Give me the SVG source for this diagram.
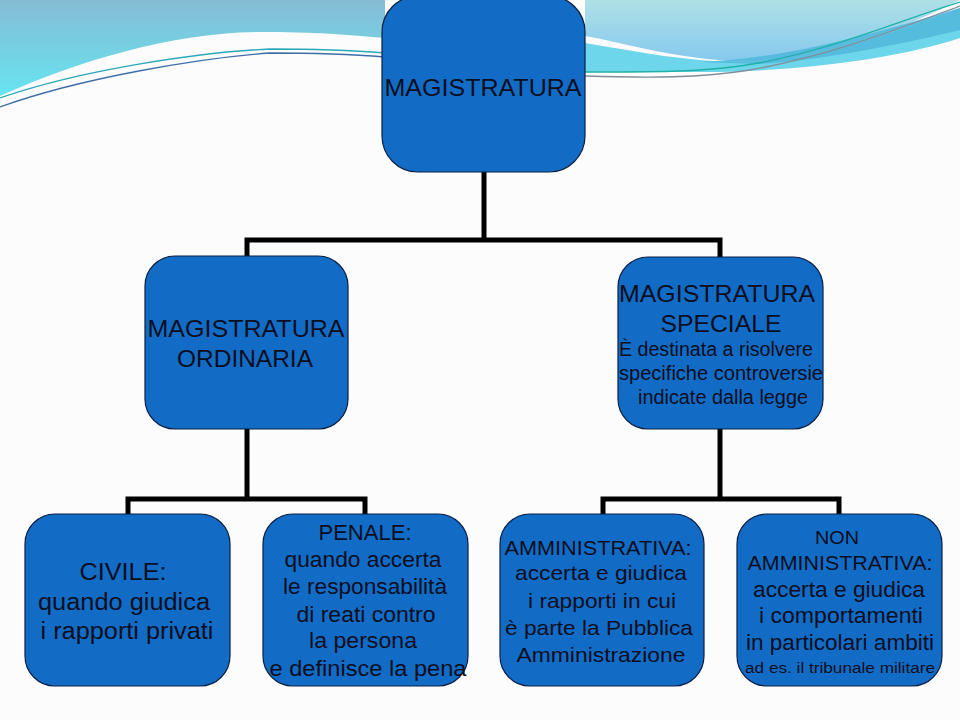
<svg xmlns="http://www.w3.org/2000/svg" width="960" height="720" viewBox="0 0 960 720">
<defs>
<linearGradient id="gL" x1="0" y1="0" x2="0" y2="1">
<stop offset="0" stop-color="#86BCD5"/>
<stop offset="1" stop-color="#66E4F0"/>
</linearGradient>
<linearGradient id="gR" x1="0" y1="0" x2="0" y2="1">
<stop offset="0" stop-color="#AEE0E6"/>
<stop offset="1" stop-color="#86C9EE"/>
</linearGradient>
<style>
.box{fill:#126CC5;stroke:#0B1F45;stroke-width:1.2}
.t{font-family:"Liberation Sans",Arial,sans-serif;fill:#0A0E1E;text-anchor:middle}
.conn{fill:none;stroke:#000;stroke-width:5;stroke-linejoin:miter;stroke-linecap:butt}
.bgline{fill:none;stroke-width:1.3}
</style>
</defs>
<rect width="960" height="720" fill="#FCFCFD"/>
<g id="background">
<path d="M0,0 H385 V38 C360,36 320,32 270,32 C180,30 80,60 0,96 Z" fill="url(#gL)"/>
<path d="M0,98 C80,70 200,52 270,49 C320,49 360,51 385,53" class="bgline" stroke="#2AA8B8"/>
<path d="M0,107 C80,78 200,58 270,53 C320,53 360,55 385,57" class="bgline" stroke="#3C6FA8"/>
<path d="M585,0 H960 V0 C900,30 820,62 740,61 C680,60 630,44 585,36 Z" fill="url(#gR)"/>
<path d="M585,43 C640,52 690,62 740,62 C820,62 900,30 960,8 V38 C900,58 800,72 700,72 C650,72 610,72 585,72 Z" fill="#6ED6EA"/>
<path d="M700,62 C800,58 900,25 960,8 V30 C900,45 820,60 760,64 Z" fill="#52B9DC" opacity="0.9"/>
<path d="M585,72 C650,72 700,72 740,66 C820,55 900,20 960,2" class="bgline" stroke="#1FB0A8"/>
<path d="M585,76 C650,78 700,78 750,70 C830,56 900,28 960,6" class="bgline" stroke="#7F8E9A"/>
</g>
<g id="connectors">
<polyline class="conn" points="484,172 484,240"/>
<polyline class="conn" points="247,257 247,240 720,240 720,257"/>
<polyline class="conn" points="247,429 247,499"/>
<polyline class="conn" points="128,515 128,499 365,499 365,515"/>
<polyline class="conn" points="720,429 720,499"/>
<polyline class="conn" points="603,515 603,499 839,499 839,515"/>
</g>
<g id="magistratura">
<rect class="box" x="382" y="-4" width="203" height="176" rx="36" ry="36"/>
<text class="t" x="483" y="96" font-size="24" textLength="197" lengthAdjust="spacingAndGlyphs">MAGISTRATURA</text>
</g>
<g id="ordinaria">
<rect class="box" x="145" y="256" width="203" height="173" rx="30" ry="30"/>
<text class="t" font-size="24"><tspan x="246" y="337" textLength="197" lengthAdjust="spacingAndGlyphs">MAGISTRATURA</tspan><tspan x="245" y="367" textLength="136" lengthAdjust="spacingAndGlyphs">ORDINARIA</tspan></text>
</g>
<g id="speciale">
<rect class="box" x="618" y="257" width="205" height="172" rx="30" ry="30"/>
<text class="t" font-size="24"><tspan x="717" y="302" textLength="196" lengthAdjust="spacingAndGlyphs">MAGISTRATURA</tspan><tspan x="721" y="332" textLength="121" lengthAdjust="spacingAndGlyphs">SPECIALE</tspan></text>
<text class="t" font-size="20"><tspan x="716" y="356" textLength="194" lengthAdjust="spacingAndGlyphs">È destinata a risolvere</tspan><tspan x="721" y="380" textLength="204" lengthAdjust="spacingAndGlyphs">specifiche controversie</tspan><tspan x="723" y="404" textLength="170" lengthAdjust="spacingAndGlyphs">indicate dalla legge</tspan></text>
</g>
<g id="civile">
<rect class="box" x="25" y="514" width="205" height="172" rx="30" ry="30"/>
<text class="t" font-size="23"><tspan x="123" y="580" textLength="87" lengthAdjust="spacingAndGlyphs">CIVILE:</tspan><tspan x="124" y="610" textLength="172" lengthAdjust="spacingAndGlyphs">quando giudica</tspan><tspan x="127" y="639" textLength="173" lengthAdjust="spacingAndGlyphs">i rapporti privati</tspan></text>
</g>
<g id="penale">
<rect class="box" x="263" y="514" width="205" height="172" rx="30" ry="30"/>
<text class="t" font-size="22"><tspan x="365" y="540" textLength="93" lengthAdjust="spacingAndGlyphs">PENALE:</tspan><tspan x="363" y="567" textLength="157" lengthAdjust="spacingAndGlyphs">quando accerta</tspan><tspan x="365" y="594" textLength="164" lengthAdjust="spacingAndGlyphs">le responsabilità</tspan><tspan x="366" y="622" textLength="139" lengthAdjust="spacingAndGlyphs">di reati contro</tspan><tspan x="363" y="648" textLength="108" lengthAdjust="spacingAndGlyphs">la persona</tspan><tspan x="368" y="676" textLength="197" lengthAdjust="spacingAndGlyphs">e definisce la pena</tspan></text>
</g>
<g id="amministrativa">
<rect class="box" x="500" y="514" width="204" height="172" rx="30" ry="30"/>
<text class="t" font-size="21"><tspan x="598" y="555" textLength="187" lengthAdjust="spacingAndGlyphs">AMMINISTRATIVA:</tspan><tspan x="601" y="580" textLength="172" lengthAdjust="spacingAndGlyphs">accerta e giudica</tspan><tspan x="602" y="608" textLength="148" lengthAdjust="spacingAndGlyphs">i rapporti in cui</tspan><tspan x="599" y="635" textLength="188" lengthAdjust="spacingAndGlyphs">è parte la Pubblica</tspan><tspan x="601" y="662" textLength="169" lengthAdjust="spacingAndGlyphs">Amministrazione</tspan></text>
</g>
<g id="non-amministrativa">
<rect class="box" x="737" y="514" width="205" height="172" rx="30" ry="30"/>
<text class="t"><tspan x="837" y="544" font-size="18" textLength="44" lengthAdjust="spacingAndGlyphs">NON</tspan><tspan x="840" y="570" font-size="21" textLength="185" lengthAdjust="spacingAndGlyphs">AMMINISTRATIVA:</tspan><tspan x="839" y="597" font-size="22" textLength="172" lengthAdjust="spacingAndGlyphs">accerta e giudica</tspan><tspan x="841" y="623" font-size="22" textLength="164" lengthAdjust="spacingAndGlyphs">i comportamenti</tspan><tspan x="840" y="650" font-size="22" textLength="188" lengthAdjust="spacingAndGlyphs">in particolari ambiti</tspan><tspan x="840" y="673" font-size="14" textLength="190" lengthAdjust="spacingAndGlyphs">ad es. il tribunale militare</tspan></text>
</g>
</svg>
